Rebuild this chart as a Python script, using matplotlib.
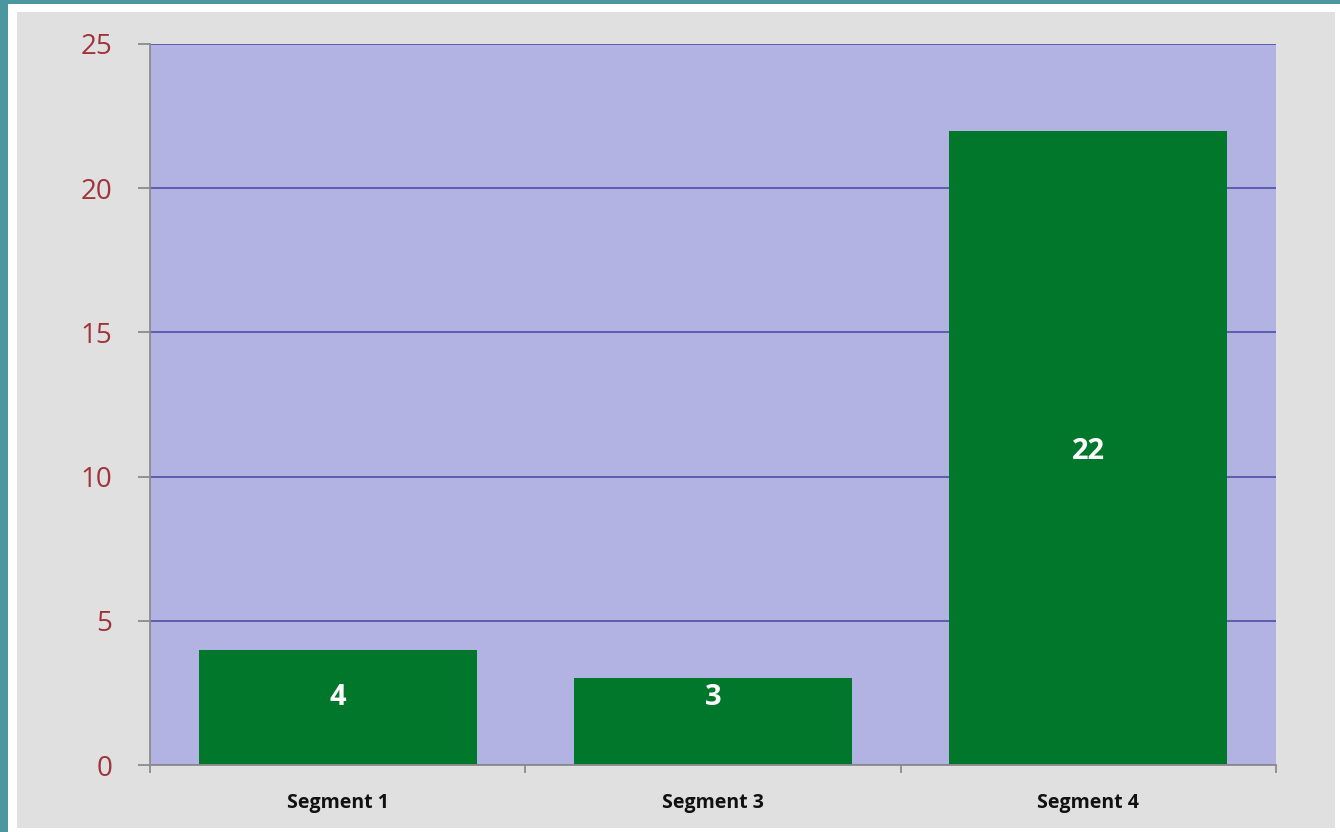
import matplotlib
matplotlib.use("Agg")
import matplotlib.pyplot as plt
from matplotlib.patches import Rectangle

categories = ["Segment 1", "Segment 3", "Segment 4"]
values = [4, 3, 22]
yticks = [0, 5, 10, 15, 20, 25]

W, H = 1340, 832
fig = plt.figure(figsize=(W / 100, H / 100), dpi=100)
fig.patch.set_facecolor("white")

def px_rect(x0, y0, x1, y1, color, z):
    fig.patches.append(Rectangle((x0 / W, 1 - y1 / H), (x1 - x0) / W, (y1 - y0) / H,
                                 transform=fig.transFigure, facecolor=color,
                                 edgecolor="none", zorder=z))

px_rect(0, 0, W, H, "#4a97a0", -3)
px_rect(8, 4, W, H, "white", -2)
px_rect(17, 12, 1335, 828, "#e0e0e0", -1)

left, right, top, bottom = 150, 1276, 44, 765
ax = fig.add_axes([left / W, 1 - bottom / H, (right - left) / W, (bottom - top) / H])
ax.set_facecolor("#b3b3e3")

x = list(range(len(categories)))
bars = ax.bar(x, values, width=0.74, color="#00772a", zorder=3)
ax.set_xlim(-0.5, len(categories) - 0.5)
ax.set_ylim(0, 25)
ax.set_yticks(yticks)
ax.yaxis.grid(True, color="#5555aa", linewidth=1.3, zorder=1)
ax.set_axisbelow(True)

for s in ["top", "right"]:
    ax.spines[s].set_visible(False)
for s in ["left", "bottom"]:
    ax.spines[s].set_color("#8c8c8c")
    ax.spines[s].set_linewidth(1.3)
    ax.spines[s].set_zorder(4)

ax.tick_params(axis="y", direction="out", length=9, width=1.3, color="#8c8c8c",
               pad=18, labelsize=20, labelcolor="#a0343a")
for lab in ax.get_yticklabels():
    lab.set_fontfamily("Open Sans")

# category labels centered, ticks at boundaries
ax.set_xticks([i - 0.5 for i in range(len(categories) + 1)])
ax.set_xticklabels([""] * (len(categories) + 1))
ax.tick_params(axis="x", direction="out", length=6, width=1.3, color="#8c8c8c")
ax.set_xticks(x, minor=True)
ax.set_xticklabels(categories, minor=True, fontsize=14, fontweight="bold",
                   fontfamily="Open Sans", color="#111111")
ax.tick_params(axis="x", which="minor", length=0, pad=20)

for xi, v in zip(x, values):
    ax.text(xi, max(v / 2 - 0.12, 2.35), str(v), ha="center", va="center", color="white",
            fontsize=21, fontweight="bold", fontfamily="Open Sans", zorder=5)

fig.savefig("out.png", dpi=100, facecolor=fig.get_facecolor())
